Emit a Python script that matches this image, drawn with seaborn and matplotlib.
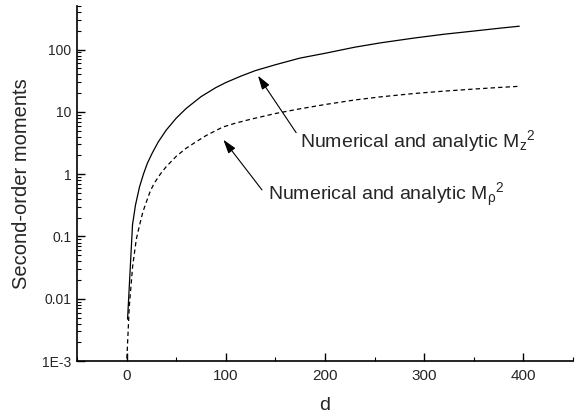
import numpy as np
import pandas as pd
import matplotlib
matplotlib.use('Agg')
import matplotlib.pyplot as plt
import matplotlib.ticker as mticker
import seaborn as sns

# values
d_z = [1, 6, 9, 13, 17, 21, 26, 32, 40, 50, 60, 75, 90, 100, 115, 130, 150, 175,
       200, 230, 256, 290, 320, 350, 375, 396]
mz2 = [0.0047, 0.155, 0.32, 0.62, 1.0, 1.5, 2.2, 3.3, 5.1, 7.9, 11.3, 17.5, 24.5, 29.5,
       37.3, 46, 57, 73, 87, 109, 128, 153, 176, 198, 219, 237]

d_rho = [0.3, 2.7, 6.1, 9.8, 13, 16.5, 20, 24, 28, 34, 40, 50, 60, 70, 80, 97, 110, 125,
         150, 175, 200, 230, 256, 290, 320, 350, 375, 396]
mrho2 = [0.0011, 0.0074, 0.033, 0.09, 0.15, 0.25, 0.36, 0.54, 0.72, 1.0, 1.32, 1.93, 2.6,
         3.3, 4.15, 5.7, 6.6, 7.6, 9.4, 11.2, 13.1, 15.5, 17.4, 19.7, 21.5, 23.2, 24.6, 25.7]

ytick_vals = [1e-3, 1e-2, 1e-1, 1, 10, 100]
ytick_labels = ['1E-3', '0.01', '0.1', '1', '10', '100']
xtick_vals = [0, 100, 200, 300, 400]

label_z = r'Numerical and analytic M$_\mathregular{z}$$^\mathregular{2}$'
label_rho = r'Numerical and analytic M$_\rho$$^\mathregular{2}$'

sns.set_style('ticks')
plt.rcParams['font.family'] = ['Liberation Sans', 'DejaVu Sans']
plt.rcParams['mathtext.fontset'] = 'custom'
plt.rcParams['mathtext.rm'] = 'Liberation Sans'
plt.rcParams['mathtext.it'] = 'Liberation Sans'
plt.rcParams['mathtext.bf'] = 'Liberation Sans:bold'

df_z = pd.DataFrame({'d': d_z, 'm': mz2})
df_r = pd.DataFrame({'d': d_rho, 'm': mrho2})

fig = plt.figure(figsize=(5.81, 4.16), dpi=100)
ax = fig.add_axes([0.1325, 0.132, 0.8535, 0.8536])

sns.lineplot(data=df_z, x='d', y='m', color='black', lw=0.9, ax=ax)
sns.lineplot(data=df_r, x='d', y='m', color='black', lw=0.9, ax=ax)
ax.lines[1].set_dashes([3.5, 2.5])

ax.set_yscale('log')
ax.set_ylim(1e-3, 500)
ax.set_xlim(-50, 450)

ax.set_yticks(ytick_vals)
ax.yaxis.set_major_formatter(mticker.FixedFormatter(ytick_labels))
ax.yaxis.set_minor_locator(mticker.LogLocator(base=10, subs=np.arange(2, 10)))
ax.yaxis.set_minor_formatter(mticker.NullFormatter())
ax.set_xticks(xtick_vals)
ax.xaxis.set_minor_locator(mticker.MultipleLocator(50))

ax.tick_params(axis='both', which='major', direction='in', length=6, width=1.0, color='black')
ax.tick_params(axis='both', which='minor', direction='in', length=3, width=0.8, color='black')
ax.tick_params(axis='x', which='major', labelsize=11, pad=6)
ax.tick_params(axis='y', which='major', labelsize=10, pad=4)

sns.despine(ax=ax)
for s in ['left', 'bottom']:
    ax.spines[s].set_linewidth(1.2)
    ax.spines[s].set_color('black')

ax.set_xlabel('d', fontsize=14, labelpad=10)
ax.set_ylabel('Second-order moments', fontsize=14.5, labelpad=8)

arrow = dict(arrowstyle='-|>,head_length=0.7,head_width=0.22', color='black', lw=0.8,
             mutation_scale=12, shrinkA=0, shrinkB=0)
ax.annotate('', xy=(132.5, 38), xytext=(171, 4.63), arrowprops=arrow)
ax.annotate('', xy=(97.6, 3.57), xytext=(136.5, 0.56), arrowprops=arrow)
ax.text(175, 3.36, label_z, fontsize=14, ha='left', va='center')
ax.text(142.8, 0.467, label_rho, fontsize=14, ha='left', va='center')

fig.savefig('out.png', dpi=100)
